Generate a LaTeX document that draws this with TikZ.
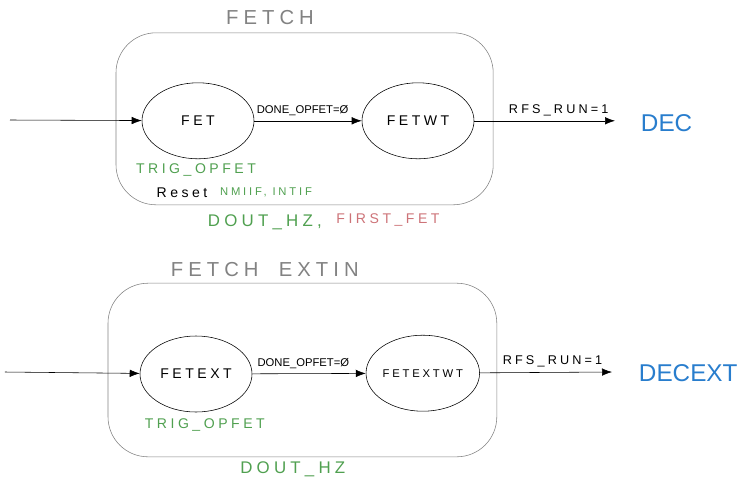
\documentclass[tikz,border=0pt]{standalone}
\usepackage{fontspec}
\setmainfont{Liberation Sans}[LetterSpace=25]
\newfontfamily\plainfont{Liberation Sans}
\usetikzlibrary{arrows.meta,shapes.geometric}
\definecolor{greenink}{RGB}{80,160,80}
\definecolor{redink}{RGB}{205,115,120}
\definecolor{blueink}{RGB}{40,125,205}
\definecolor{grayink}{RGB}{130,130,130}
\begin{document}
\begin{tikzpicture}[
  state/.style={draw, ellipse, inner sep=0pt, minimum width=2.8cm, minimum height=1.9cm, font=\normalsize},
  group/.style={draw=grayink, rounded corners=1cm},
  title/.style={text=grayink, font=\Large},
  lbl/.style={font=\plainfont\footnotesize},
  act/.style={text=greenink, font=\normalsize},
  go/.style={-{Latex[length=2.5mm]}},
  dest/.style={text=blueink, font=\plainfont\LARGE}]
\useasboundingbox (0,0) rectangle (18.425,-11.975);
%\clip(0,0) rectangle (18.425,-11.975);

% fetch
\node [title] (t1) at (6.75,-0.45) {FETCH};
\draw [group] (2.9,-0.82) rectangle (12.33,-5.12);
\node [state] (fet) at (4.95,-3.02) {FET};
\node [state] (fetwt) at (10.45,-3.02) {FETWT};
\coordinate (in1) at (0.25,-3.0);
\coordinate (out1) at (15.375,-3.02);
\node [dest, anchor=west] (dec) at (15.9,-3.08) {DEC};
\draw [go] (in1) -- (fet);
\draw [go] (fet) -- node [lbl, above, pos=0.45] (done1) {DONE\_OPFET=Ø} (fetwt);
\draw [go] (fetwt) -- node [lbl, font=\small, above, pos=0.6] (rfs1) {RFS\_RUN=1} (out1);
\node [act] (trig1) at (4.9,-4.25) {TRIG\_OPFET};
\node [font=\normalsize] (rst) at (4.55,-4.82) {Reset};
\node [act, font=\footnotesize] (nmi) at (6.65,-4.82) {NMIIF, INTIF};
\node [act, font=\large] (hz1) at (6.62,-5.55) {DOUT\_HZ,};
\node [text=redink, font=\normalsize] (first) at (9.7,-5.5) {FIRST\_FET};

% fetch extin
\node [title] (t2) at (6.62,-6.75) {FETCH\quad EXTIN};
\draw [group] (2.7,-7.08) rectangle (12.42,-11.42);
\node [state] (fetext) at (4.9,-9.35) {FETEXT};
\node [state, font=\footnotesize] (fetextwt) at (10.57,-9.33) {FETEXTWT};
\coordinate (in2) at (0.12,-9.3);
\coordinate (out2) at (15.3,-9.3);
\node [dest, anchor=west] (decext) at (15.85,-9.33) {DECEXT};
\draw [go] (in2) -- (fetext);
\draw [go] (fetext) -- node [lbl, above, pos=0.45] (done2) {DONE\_OPFET=Ø} (fetextwt);
\draw [go] (fetextwt) -- node [lbl, font=\small, above, pos=0.55] (rfs2) {RFS\_RUN=1} (out2);
\node [act] (trig2) at (5.12,-10.62) {TRIG\_OPFET};
\node [act, font=\large] (hz2) at (7.32,-11.72) {DOUT\_HZ};
\end{tikzpicture}
\end{document}
